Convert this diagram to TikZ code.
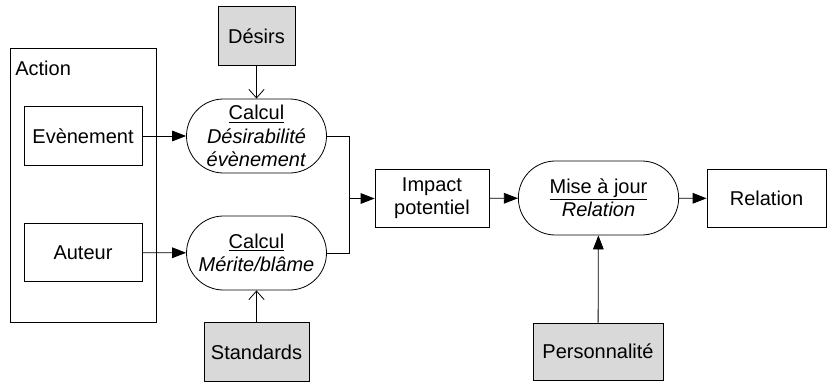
\documentclass[tikz,border=0pt]{standalone}
\usepackage{fontspec}
\setmainfont{Liberation Sans}
\usepackage{tikz}
\usetikzlibrary{positioning, calc, arrows.meta, shapes.misc}

\begin{document}
\begin{tikzpicture}[x=0.75pt, y=0.75pt, line width=0.6pt, font=\fontsize{15}{17.5}\selectfont]
        % Define block styles
        \tikzstyle{box} = [rectangle, draw, fill=white, align=center, inner sep=2pt, minimum width=88.5pt, minimum height=44pt]
        \tikzstyle{input} = [box, fill=gray!30]
        \tikzstyle{calc} = [rounded rectangle, draw, fill=white, align=center, inner sep=1pt, minimum width=107pt, minimum height=55.5pt]
        \tikzstyle{flow} = [-{Triangle[length=10.5pt, width=8pt]}]
        \tikzstyle{feed} = [-{Straight Barb[length=6.5pt, width=11.5pt]}]

        \useasboundingbox (0,0) rectangle (827,-385);

        % Place main nodes
        \node [rectangle, draw, minimum width=109.5pt, minimum height=205.5pt] (action) at (83,-185) {};
        \node [anchor=north west, inner sep=0pt] (actionlabel) at ([xshift=4pt, yshift=-10pt]action.north west) {Action};
        \node [box] (event) at (83,-136) {Evènement};
        \node [box] (author) at (83,-252.5) {Auteur};

        % Place the two computations
        \node [calc] (calcdesir) at (256.5,-136) {\underline{Calcul}\\\textit{Désirabilité}\\\textit{évènement}};
        \node [calc] (calcmerit) at (256.5,-253) {\underline{Calcul}\\\textit{Mérite/blâme}};
        \node [input, minimum width=57.75pt, above=24.75pt of calcdesir] (desires) {Désirs};
        \node [input, minimum width=78.75pt, below=24pt of calcmerit] (standards) {Standards};

        % Place the update chain
        \node [box, minimum width=85.5pt] (impact) at (432,-198.5) {Impact\\potentiel};
        \node [calc, minimum width=122.25pt] (update) at (598.5,-198) {\underline{Mise à jour}\\\textit{Relation}};
        \node [box, minimum width=89.25pt] (relation) at (766.5,-198.5) {Relation};
        \node [input, minimum width=97.5pt, minimum height=42.75pt] (personality) at (598,-351.5) {Personnalité};
        \coordinate (join) at (349,-198.5);

        % Draw connections as arrows
        \draw [flow] (event) -- (calcdesir);
        \draw [flow] (author) -- (calcmerit);
        \draw [feed] (desires) -- (calcdesir);
        \draw [feed] (standards) -- (calcmerit);
        \draw (calcdesir.east) -| (join);
        \draw (calcmerit.east) -| (join);
        \draw [flow] (join) -- (impact);
        \draw [flow] (impact) -- (update);
        \draw [flow] (update) -- (relation);
        \draw [flow] (personality) -- (update);

    \end{tikzpicture}
\end{document}
